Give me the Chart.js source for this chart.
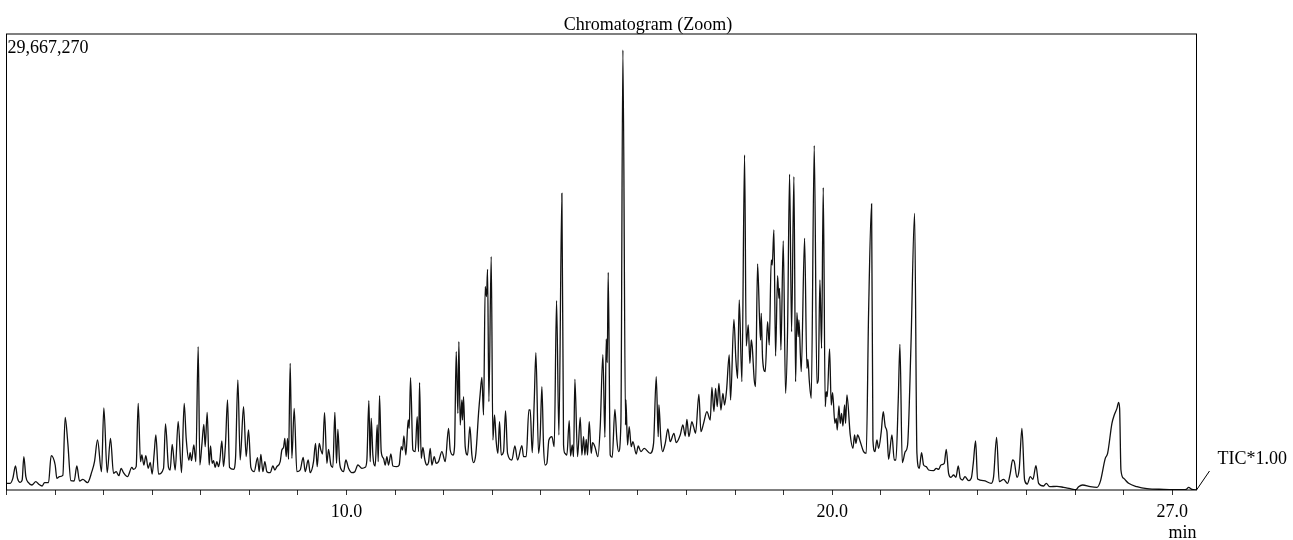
<!DOCTYPE html>
<html>
<head>
<meta charset="utf-8">
<title>Chromatogram (Zoom)</title>
<script src="https://cdn.jsdelivr.net/npm/chart.js@4"></script>
<style>
    html, body { margin: 0; padding: 0; background: #fff; overflow: hidden; }
    canvas { display: block; }
</style>
</head>
<body>
<canvas id="tic" width="1293" height="540"></canvas>
<script>
'use strict';

var chartTitle = 'Chromatogram (Zoom)';
var fullScaleLabel = '29,667,270';
var traceLabel = 'TIC*1.00';
var timeUnit = 'min';

var tickMinutes = [3, 4, 5, 6, 7, 8, 9, 10, 11, 12, 13, 14, 15, 16, 17, 18, 19, 20, 21, 22, 23, 24, 25, 26, 27];
var labelledMinutes = [10, 20, 27];

// scan numbers and signal, signal full scale is 1368
var fullScaleSignal = 1368;
var firstScan = 19;
var firstMinute = 3;
var scansPerMinute = 145.7;

var earlyScans = [19, 30, 38, 46, 52, 60, 66, 71, 77, 85, 95, 107, 115, 126, 133, 145, 153, 165, 170, 178, 188, 195, 203, 212, 222, 230, 238, 248, 262, 275, 283, 292, 304, 311, 321, 331, 340, 348, 356, 363, 370, 382, 395, 400, 408, 414, 421, 425, 431, 437, 444, 450, 456, 462, 467, 475, 490, 496, 505, 510, 516, 525, 534, 544, 552, 558, 566, 570, 574, 581, 587, 594, 599, 605, 611, 615, 621, 627, 631, 636, 640, 645, 650, 655, 659, 665, 670, 676, 682, 688, 700, 706, 713, 720, 730, 738, 745, 752, 762, 772, 777, 782, 788, 794, 800, 810, 818, 824, 830, 840, 845, 850, 854, 858, 862, 865, 870, 875, 882, 890, 900, 909, 915, 924, 930, 940, 946, 951, 957, 962, 967, 973, 980, 985, 992, 998, 1004, 1009, 1013, 1018, 1024, 1030, 1037, 1045, 1055, 1064, 1073, 1085, 1095, 1100, 1106, 1110, 1113, 1118, 1125, 1131, 1134, 1138, 1143, 1150, 1155, 1160, 1165, 1172, 1178, 1190, 1197, 1203, 1207, 1211, 1217, 1224, 1227, 1231, 1238, 1245, 1251, 1255, 1258, 1263, 1268, 1274, 1280, 1285];
var earlySignal = [20, 20, 35, 72, 35, 23, 30, 100, 40, 22, 15, 25, 18, 12, 22, 22, 103, 75, 35, 40, 44, 218, 140, 28, 27, 72, 27, 32, 22, 55, 85, 150, 55, 246, 52, 155, 50, 55, 43, 65, 52, 40, 68, 62, 70, 260, 85, 105, 75, 103, 65, 83, 48, 110, 165, 48, 65, 198, 68, 60, 137, 60, 206, 52, 260, 155, 90, 112, 88, 135, 85, 430, 75, 135, 197, 130, 233, 75, 132, 80, 88, 68, 85, 70, 88, 147, 70, 140, 270, 68, 62, 95, 330, 90, 250, 100, 180, 68, 55, 97, 55, 107, 55, 85, 55, 52, 72, 60, 70, 85, 120, 128, 155, 100, 155, 92, 380, 95, 245, 55, 60, 98, 55, 90, 52, 85, 140, 70, 140, 120, 108, 232, 80, 122, 75, 68, 233, 80, 182, 85, 60, 55, 90, 65, 52, 55, 75, 65, 68, 90, 268, 85, 215, 105, 72, 195, 85, 283, 115, 95, 75, 100, 75, 108, 72, 70, 75, 130, 120, 162, 105, 210, 185, 337, 120, 115, 220, 115, 322, 95, 128, 90, 75, 83];

var midScans = [1290, 1295, 1302, 1308, 1315, 1325, 1335, 1345, 1350, 1358, 1363, 1368, 1373, 1376, 1380, 1385, 1387, 1390, 1395, 1402, 1409, 1415, 1420, 1427, 1435, 1440, 1445, 1450, 1455, 1459, 1462, 1466, 1473, 1478, 1483, 1488, 1493, 1498, 1503, 1510, 1516, 1522, 1535, 1544, 1552, 1565, 1570, 1578, 1586, 1590, 1596, 1602, 1607, 1615, 1620, 1625, 1630, 1635, 1640, 1646, 1655, 1662, 1669, 1676, 1685, 1690, 1694, 1700, 1707, 1711, 1716, 1720, 1724, 1732, 1740, 1745, 1750, 1754, 1758, 1762, 1767, 1773, 1777, 1784, 1793, 1800, 1808, 1814, 1818, 1821, 1824, 1830, 1836, 1844, 1850, 1855, 1862, 1868, 1876, 1877, 1882, 1887, 1893, 1898, 1908, 1914, 1922, 1932, 1950, 1960, 1968, 1974, 1976, 1982, 1987, 1995, 2003, 2010, 2021, 2028, 2040, 2048, 2055, 2060, 2066, 2075, 2080, 2086, 2096, 2102, 2110, 2120, 2130, 2135, 2141, 2146, 2151, 2156, 2162, 2168, 2173, 2179, 2187];
var midSignal = [125, 75, 100, 80, 85, 115, 85, 185, 120, 105, 130, 415, 230, 445, 195, 270, 210, 280, 130, 105, 190, 105, 82, 110, 230, 290, 338, 225, 610, 580, 662, 265, 700, 150, 225, 145, 110, 205, 105, 115, 237, 110, 90, 132, 90, 133, 100, 100, 240, 240, 112, 265, 412, 110, 165, 310, 130, 75, 80, 150, 160, 130, 568, 165, 890, 135, 110, 105, 208, 102, 135, 100, 332, 100, 218, 105, 160, 105, 152, 105, 205, 110, 142, 130, 100, 190, 406, 158, 453, 382, 653, 105, 98, 242, 150, 115, 200, 1320, 195, 270, 135, 190, 130, 145, 108, 132, 115, 125, 110, 140, 340, 160, 255, 150, 115, 140, 183, 145, 170, 142, 165, 195, 162, 212, 160, 205, 190, 170, 287, 175, 200, 235, 210, 308, 235, 305, 250, 320, 240, 290, 255, 300, 405];

var humpScans = [2191, 2201, 2207, 2212, 2217, 2225, 2233, 2238, 2244, 2249, 2253, 2256, 2262, 2266, 2272, 2278, 2281, 2283, 2287, 2295, 2302, 2307, 2313, 2316, 2321, 2326, 2332, 2336, 2338, 2342, 2349, 2356, 2362, 2368, 2374, 2381, 2386, 2390, 2394, 2396, 2403, 2413, 2420, 2423, 2427, 2433, 2442, 2450, 2454, 2459, 2464, 2469, 2475, 2478, 2481, 2488, 2493, 2497, 2504, 2508, 2511, 2516, 2520, 2524, 2528, 2533, 2536, 2540, 2550, 2558, 2563, 2567, 2572, 2580, 2590, 2598, 2605, 2614, 2618, 2624, 2630, 2635, 2643, 2649, 2655, 2660, 2665, 2675, 2682, 2687, 2694, 2699, 2706, 2715, 2722, 2732, 2743, 2750, 2757, 2764, 2770, 2778, 2785, 2800, 2808, 2815, 2822, 2832];
var humpSignal = [270, 512, 390, 335, 570, 325, 1005, 432, 495, 380, 450, 430, 330, 310, 678, 510, 450, 530, 395, 355, 505, 435, 690, 675, 780, 402, 643, 575, 605, 420, 747, 290, 480, 947, 475, 940, 325, 532, 460, 510, 355, 755, 365, 392, 330, 275, 1033, 320, 330, 630, 425, 907, 250, 295, 280, 423, 255, 292, 200, 215, 180, 252, 200, 230, 192, 255, 200, 285, 165, 125, 165, 140, 165, 145, 115, 110, 530, 858, 150, 115, 150, 125, 175, 235, 190, 175, 92, 165, 90, 90, 270, 437, 82, 115, 135, 430, 830, 110, 65, 112, 75, 70, 60, 58, 65, 62, 75, 80];

var tailScans = [2838, 2845, 2852, 2860, 2867, 2874, 2880, 2887, 2894, 2905, 2913, 2919, 2926, 2932, 2950, 2973, 2980, 2989, 2997, 3010, 3022, 3030, 3037, 3042, 3050, 3057, 3065, 3073, 3081, 3090, 3098, 3107, 3115, 3130, 3138, 3148, 3170, 3190, 3210, 3227, 3235, 3247, 3270, 3290, 3300, 3315, 3322, 3335, 3342, 3350, 3355, 3358, 3362, 3370, 3385, 3410, 3440, 3490, 3550, 3558, 3565, 3575, 3590];
var tailSignal = [122, 50, 38, 45, 38, 72, 35, 30, 40, 28, 35, 80, 147, 33, 28, 20, 40, 158, 25, 32, 20, 50, 90, 85, 38, 65, 185, 30, 18, 40, 32, 73, 20, 12, 20, 10, 11, 8, 4, 1, 10, 15, 10, 8, 25, 95, 110, 200, 225, 245, 263, 245, 60, 35, 20, 10, 4, 2, 1, 2, 8, 2, 0];

var scans = earlyScans.concat(midScans, humpScans, tailScans);
var signal = earlySignal.concat(midSignal, humpSignal, tailSignal);

var serifFont = '"Liberation Serif", "Times New Roman", serif';

var frameAndLabel = {
    id: 'frameAndLabel',
    afterDraw: function (chart) {
        var ctx = chart.ctx;
        var area = chart.chartArea;
        ctx.save();
        ctx.strokeStyle = '#000';
        ctx.lineWidth = 1;
        ctx.strokeRect(area.left, area.top, area.right - area.left, area.bottom - area.top);
        ctx.beginPath();
        ctx.moveTo(area.right, area.bottom);
        ctx.lineTo(area.right + 13, area.bottom - 19);
        ctx.stroke();
        ctx.fillStyle = '#000';
        ctx.font = '18px ' + serifFont;
        ctx.textBaseline = 'middle';
        ctx.fillText(traceLabel, area.right + 21, area.bottom - 31);
        ctx.restore();
    }
};

var points = scans.map(function (scan, i) {
    return { x: firstMinute + (scan - firstScan) / scansPerMinute, y: signal[i] };
});

new Chart(document.getElementById('tic'), {
    type: 'line',
    data: {
        datasets: [{
            label: traceLabel,
            data: points,
            borderColor: '#111',
            borderWidth: 1.3,
            pointRadius: 0,
            cubicInterpolationMode: 'monotone'
        }]
    },
    plugins: [frameAndLabel],
    options: {
        responsive: false,
        animation: false,
        layout: { padding: { left: 3, right: 0, top: 0, bottom: -2 } },
        plugins: {
            legend: { display: false },
            tooltip: { enabled: false },
            title: {
                display: true,
                text: chartTitle,
                color: '#000',
                font: { family: serifFont, size: 18, weight: 'normal', lineHeight: 1 },
                padding: { top: 16, bottom: 0 }
            }
        },
        scales: {
            x: {
                type: 'linear',
                min: firstMinute,
                max: 27.5,
                afterBuildTicks: function (scale) {
                    scale.ticks = tickMinutes.map(function (m) { return { value: m }; });
                },
                afterFit: function (scale) {
                    scale.height = 52;
                    scale.paddingLeft = 0;
                    scale.paddingRight = 0;
                },
                grid: { drawOnChartArea: false, drawTicks: true, tickLength: 5, color: '#333' },
                border: { display: false },
                ticks: {
                    color: '#000',
                    font: { family: serifFont, size: 18, lineHeight: 1 },
                    padding: 8,
                    autoSkip: false,
                    maxRotation: 0,
                    callback: function (value) {
                        return labelledMinutes.indexOf(value) >= 0 ? value.toFixed(1) : '';
                    }
                },
                title: {
                    display: true,
                    text: timeUnit,
                    align: 'end',
                    color: '#000',
                    font: { family: serifFont, size: 18, lineHeight: 1 },
                    padding: { top: 0, bottom: 0 }
                }
            },
            y: {
                min: 0,
                max: fullScaleSignal,
                afterBuildTicks: function (scale) {
                    scale.ticks = [{ value: fullScaleSignal }];
                },
                afterFit: function (scale) { scale.width = 3.5; },
                grid: { display: false, drawTicks: false, tickLength: 0 },
                border: { display: false },
                ticks: {
                    mirror: true,
                    padding: 1,
                    labelOffset: 14,
                    color: '#000',
                    font: { family: serifFont, size: 18 },
                    callback: function () { return fullScaleLabel; }
                }
            },
            // empty axis keeps the space on the right for the trace label
            labelGutter: {
                type: 'linear',
                position: 'right',
                afterFit: function (scale) { scale.width = 96.5; },
                grid: { display: false, drawTicks: false, tickLength: 0 },
                border: { display: false },
                ticks: { display: false }
            }
        }
    }
});
</script>
</body>
</html>
